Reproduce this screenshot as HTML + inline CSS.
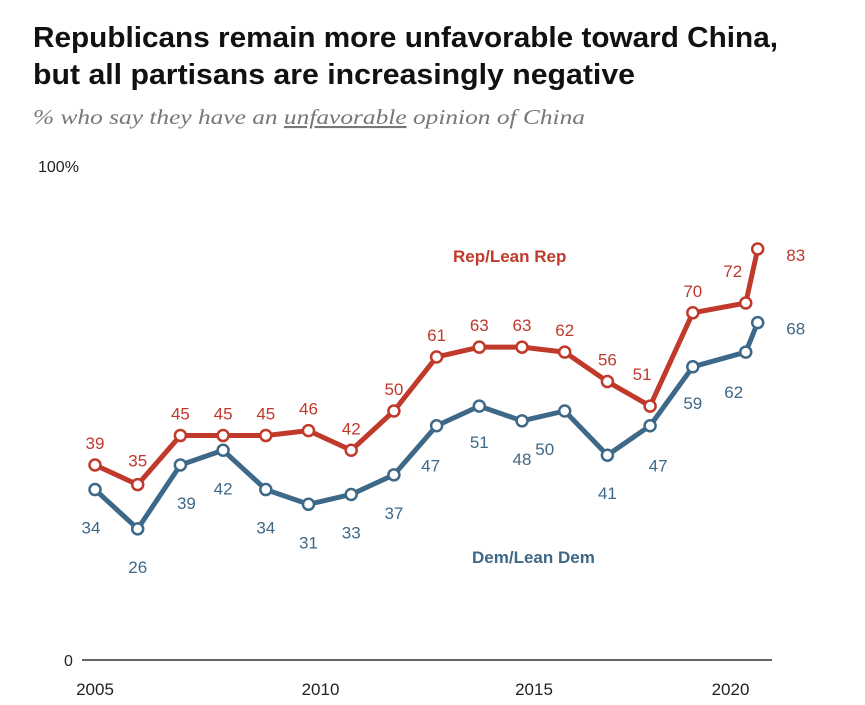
<!DOCTYPE html>
<html><head><meta charset="utf-8"><style>
body{margin:0;background:#fff;}
svg{display:block;}
text{font-family:"Liberation Sans",sans-serif;}
</style></head><body>
<svg id="chart" width="865" height="705">
<text x="33" y="47" font-size="29" font-weight="bold" fill="#111" textLength="745" lengthAdjust="spacingAndGlyphs">Republicans remain more unfavorable toward China,</text>
<text x="33" y="84" font-size="29" font-weight="bold" fill="#111" textLength="602" lengthAdjust="spacingAndGlyphs">but all partisans are increasingly negative</text>
<text x="33" y="124" font-size="21" font-style="italic" fill="#777" style="font-family:'Liberation Serif',serif" textLength="552" lengthAdjust="spacingAndGlyphs">% who say they have an <tspan text-decoration="underline">unfavorable</tspan> opinion of China</text>
<text x="38" y="172" font-size="16" fill="#222">100%</text>
<text x="64" y="666" font-size="16" fill="#222">0</text>
<line x1="82" y1="660" x2="772" y2="660" stroke="#333" stroke-width="1.5"/>
<g id="xt"></g><g id="lines"></g><g id="labels"></g>
<text x="453" y="262" font-size="17" font-weight="bold" fill="#c0392b">Rep/Lean Rep</text>
<text x="472" y="563" font-size="17" font-weight="bold" fill="#3e6888">Dem/Lean Dem</text>
</svg>
<script>
const years=[2005,2006,2007,2008,2009,2010,2011,2012,2013,2014,2015,2016,2017,2018,2019,2020.24,2020.52];
const repValues=[39,35,45,45,45,46,42,50,61,63,63,62,56,51,70,72,83];
const demValues=[34,26,39,42,34,31,33,37,47,51,48,50,41,47,59,62,68];
const tickYears=[2005,2010,2015,2020];
const NS="http://www.w3.org/2000/svg";
const xs=y=>95+(y-2005)*42.7;
const ys=v=>656.5-v*4.91;
function mk(tag,attrs,parent,text){const e=document.createElementNS(NS,tag);for(const k in attrs)e.setAttribute(k,attrs[k]);if(text!==undefined)e.textContent=text;parent.appendChild(e);return e;}
const xt=document.getElementById('xt');
tickYears.forEach(t=>{const e=mk('text',{x:xs(t)+(t==2005?0:t==2020?-5:12),y:695,'font-size':17,fill:'#222','text-anchor':'middle'},xt,t);

});
const L=document.getElementById('lines'),T=document.getElementById('labels');
const repOff=[[0,-22],[0,-24],[0,-22],[0,-22],[0,-22],[0,-22],[0,-22],[0,-22],[0,-22],[0,-22],[0,-22],[0,-22],[0,-22],[-8,-32],[0,-22],[-13,-32],[38,6]];
const demOff=[[-4,38],[0,38],[6,38],[0,38],[0,38],[0,38],[0,38],[0,38],[-6,40],[0,36],[0,38],[-20,38],[0,38],[8,40],[0,36],[-12,40],[38,6]];
function series(vals,off,color,name){
  const pts=vals.map((v,i)=>xs(years[i])+','+ys(v)).join(' ');
  const pl=mk('polyline',{points:pts,fill:'none',stroke:color,'stroke-width':5,'stroke-linejoin':'round'},L);
  
  
  vals.forEach((v,i)=>{
    const c=mk('circle',{cx:xs(years[i]),cy:ys(v),r:5.5,fill:'#fff',stroke:color,'stroke-width':2.5},L);
    
    
    const t=mk('text',{x:xs(years[i])+off[i][0],y:ys(v)+off[i][1]+6,'font-size':17,fill:color,'text-anchor':'middle'},T,v);
    
    
  });
}
series(demValues,demOff,'#3e6888','dem');
series(repValues,repOff,'#c0392b','rep');
</script>
</body></html>
